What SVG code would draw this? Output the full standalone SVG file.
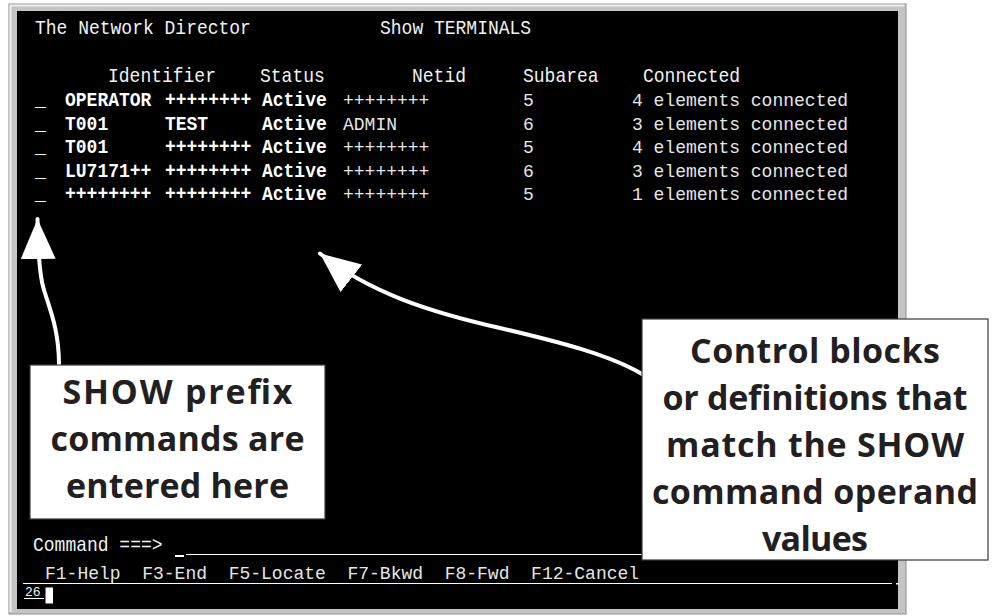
<svg xmlns="http://www.w3.org/2000/svg" width="997" height="616" viewBox="0 0 997 616">
<defs>
<style>
.term{font-family:"Liberation Mono","DejaVu Sans Mono",monospace;fill:#f2f2f2}
.big{font-size:20px}
.sm{font-size:18px;fill:#e6e6e6}
.b{font-weight:bold;fill:#ffffff}
.call{font-family:"Open Sans","Lato","DejaVu Sans",sans-serif;font-weight:700;font-size:34px;fill:#231f20;text-anchor:middle}
.box{fill:#ffffff;stroke:#3a3a3a;stroke-width:1.2}
.shaft{fill:none;stroke:#ffffff;stroke-width:4;stroke-linecap:round}
</style>
<marker id="head" markerUnits="userSpaceOnUse" markerWidth="41" markerHeight="36" refX="40" refY="17.5" orient="auto">
<path d="M0,0 L40,17.5 L0,35 Z" fill="#ffffff"/>
</marker>
</defs>
<rect width="997" height="616" fill="#ffffff"/>
<g id="screen">
<rect x="9" y="4" width="897" height="610" fill="#c4c4c4" stroke="#8e8e8e" stroke-width="1"/>
<path d="M10.5,612 V5.5 H904.5" fill="none" stroke="#eeeeee" stroke-width="2"/>
<rect x="17" y="11" width="881" height="598" fill="#000000"/>
<g class="term" transform="scale(0.9,1)">
<text class="big" x="38.89" y="34">The Network Director</text>
<text class="big" x="422.22" y="34">Show TERMINALS</text>
<text class="big" x="120" y="82">Identifier</text>
<text class="big" x="288.89" y="82">Status</text>
<text class="big" x="457.78" y="82">Netid</text>
<text class="big" x="581.11" y="82">Subarea</text>
<text class="big" x="714.44" y="82">Connected</text>
<text class="big b" x="38.89" y="106">_</text>
<text class="big b" x="72.22" y="106">OPERATOR</text>
<text class="big b" x="183.33" y="106">++++++++</text>
<text class="big b" x="291.11" y="106">Active</text>
<text class="big b" x="38.89" y="130">_</text>
<text class="big b" x="72.22" y="130">T001</text>
<text class="big b" x="183.33" y="130">TEST</text>
<text class="big b" x="291.11" y="130">Active</text>
<text class="big b" x="38.89" y="153">_</text>
<text class="big b" x="72.22" y="153">T001</text>
<text class="big b" x="183.33" y="153">++++++++</text>
<text class="big b" x="291.11" y="153">Active</text>
<text class="big b" x="38.89" y="177">_</text>
<text class="big b" x="72.22" y="177">LU7171++</text>
<text class="big b" x="183.33" y="177">++++++++</text>
<text class="big b" x="291.11" y="177">Active</text>
<text class="big b" x="38.89" y="200">_</text>
<text class="big b" x="72.22" y="200">++++++++</text>
<text class="big b" x="183.33" y="200">++++++++</text>
<text class="big b" x="291.11" y="200">Active</text>
<text class="big" x="36.67" y="551">Command ===&gt;</text>
</g>
<g class="term sm">
<text x="343" y="106">++++++++</text>
<text x="523" y="106">5</text>
<text x="632" y="106">4 elements connected</text>
<text x="343" y="130">ADMIN</text>
<text x="523" y="130">6</text>
<text x="632" y="130">3 elements connected</text>
<text x="343" y="153">++++++++</text>
<text x="523" y="153">5</text>
<text x="632" y="153">4 elements connected</text>
<text x="343" y="177">++++++++</text>
<text x="523" y="177">6</text>
<text x="632" y="177">3 elements connected</text>
<text x="343" y="200">++++++++</text>
<text x="523" y="200">5</text>
<text x="632" y="200">1 elements connected</text>
<text x="45" y="579" xml:space="preserve">F1-Help  F3-End  F5-Locate  F7-Bkwd  F8-Fwd  F12-Cancel</text>
</g>
<rect x="175" y="555" width="9" height="2" fill="#ffffff"/>
<line x1="186" y1="554.5" x2="642" y2="554.5" stroke="#ffffff" stroke-width="1"/>
<line x1="23" y1="583.5" x2="892" y2="583.5" stroke="#ffffff" stroke-width="1"/>
<rect x="896" y="583" width="3" height="1.5" fill="#ffffff"/>
<text class="term" x="25" y="596" font-size="13">26</text>
<line x1="24" y1="598.5" x2="44" y2="598.5" stroke="#ffffff" stroke-width="1"/>
<rect x="45.5" y="587.5" width="7.5" height="16" fill="#ffffff"/>
</g>
<g id="connectors">
<path class="shaft" d="M59,365 C59,330 50,310 44,290 C39,275 38,250 37.5,219" marker-end="url(#head)"/>
<path class="shaft" d="M642,374 C610,355 560,342 500,328 C430,312 370,293 320,253.5" marker-end="url(#head)"/>
</g>
<g id="callout-prefix">
<rect class="box" x="30" y="365" width="295" height="154"/>
<text class="call" x="177.5" y="404" textLength="230" lengthAdjust="spacing">SHOW prefix</text>
<text class="call" x="177.5" y="451" textLength="254" lengthAdjust="spacing">commands are</text>
<text class="call" x="177.5" y="498" textLength="223" lengthAdjust="spacing">entered here</text>
</g>
<g id="callout-blocks">
<rect class="box" x="642" y="319" width="346" height="241"/>
<text class="call" x="815" y="363" textLength="250" lengthAdjust="spacing">Control blocks</text>
<text class="call" x="815" y="410" textLength="305" lengthAdjust="spacing">or definitions that</text>
<text class="call" x="815" y="457" textLength="298" lengthAdjust="spacing">match the SHOW</text>
<text class="call" x="815" y="504" textLength="326" lengthAdjust="spacing">command operand</text>
<text class="call" x="815" y="551" textLength="106" lengthAdjust="spacing">values</text>
</g>
</svg>
